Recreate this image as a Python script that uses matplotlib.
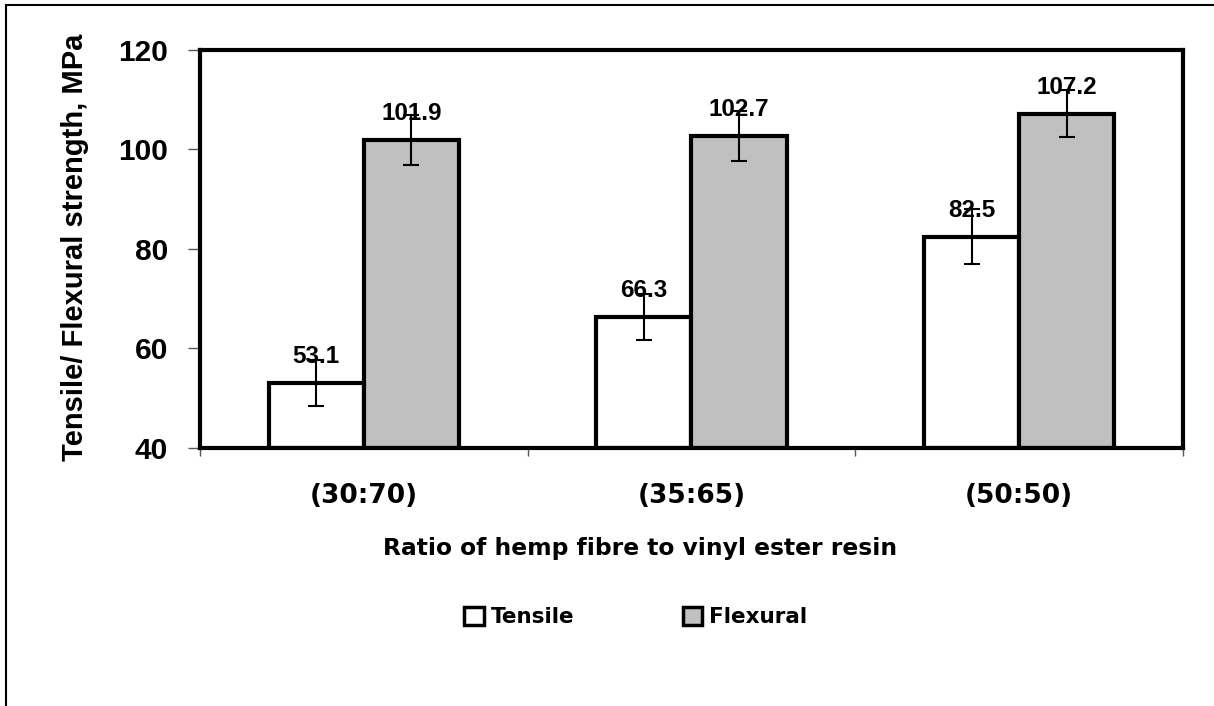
import matplotlib
matplotlib.use("Agg")
import matplotlib.pyplot as plt
from matplotlib.lines import Line2D
from matplotlib.patches import Rectangle
from matplotlib import font_manager as fm
import numpy as np

categories = ["(30:70)", "(35:65)", "(50:50)"]
tensile = [53.1, 66.3, 82.5]
flexural = [101.9, 102.7, 107.2]
tensile_err = [4.6, 4.6, 5.5]
flexural_err = [5.0, 5.0, 4.7]
yticks = [40, 60, 80, 100, 120]

# locate regular-width Liberation Sans Bold (avoid the Narrow variant)
arial_bold_file = None
for f in fm.fontManager.ttflist:
    fn = f.fname.lower()
    if f.name == 'Liberation Sans' and 'narrow' not in fn and 'bold' in fn and 'italic' not in fn:
        arial_bold_file = f.fname
        break
if arial_bold_file is None:
    arial_bold_file = fm.findfont(fm.FontProperties(family='DejaVu Sans', weight='bold'))

def AP(size):
    return fm.FontProperties(fname=arial_bold_file, size=size)

def WP(size):
    return fm.FontProperties(family='DejaVu Sans', weight='bold', size=size)

plt.rcParams['font.family'] = ['DejaVu Sans']
plt.rcParams['font.weight'] = 'bold'

fig = plt.figure(figsize=(12.14, 7.06), dpi=100)
ax = fig.add_axes([200/1214, 1-448/706, (1183-200)/1214, (448-50)/706])

x = np.arange(len(categories))
w = 0.29
ax.bar(x - w/2, [t - 40 for t in tensile], w, bottom=40, color='white', edgecolor='black', linewidth=3, zorder=2)
ax.bar(x + w/2, [f - 40 for f in flexural], w, bottom=40, color='#c0c0c0', edgecolor='black', linewidth=3, zorder=2)
ax.errorbar(x - w/2, tensile, yerr=tensile_err, fmt='none', ecolor='black', elinewidth=1.5, capsize=6, capthick=1.5, zorder=3)
ax.errorbar(x + w/2, flexural, yerr=flexural_err, fmt='none', ecolor='black', elinewidth=1.5, capsize=6, capthick=1.5, zorder=3)

for xi, v in list(zip(x - w/2, tensile)) + list(zip(x + w/2, flexural)):
    ax.annotate(f"{v:.1f}", (xi, v), xytext=(0, 19), textcoords='offset points',
                ha='center', va='center', fontproperties=AP(17.5), zorder=4)

ax.set_xlim(-0.5, 2.5)
ax.set_ylim(40, 120)
ax.set_yticks(yticks)
ax.set_yticklabels([str(t) for t in yticks], fontproperties=AP(21.5))
ax.set_xticks(x)
ax.set_xticklabels(categories, fontproperties=WP(19))
ax.set_xticks([-0.5, 0.5, 1.5, 2.5], minor=True)
ax.tick_params(axis='x', which='major', length=0, pad=25)
ax.tick_params(axis='x', which='minor', length=6, width=1, direction='out', color='#555555')
ax.tick_params(axis='y', length=9, width=1, direction='out', pad=14, color='#555555')
for s in ax.spines.values():
    s.set_linewidth(3)
    s.set_zorder(5)

ax.set_xlabel("Ratio of hemp fibre to vinyl ester resin", fontproperties=WP(16.8))
ax.xaxis.set_label_coords((640.5-200)/983, (448-548)/398)
ax.xaxis.label.set_va('center')
ax.set_ylabel("Tensile/ Flexural strength, MPa", fontproperties=AP(21))
ax.yaxis.set_label_coords((75-200)/983, (448-247.5)/398)
ax.yaxis.label.set_va('center')

handles = [Rectangle((0, 0), 1, 1, facecolor='white', edgecolor='black', linewidth=2.5),
           Rectangle((0, 0), 1, 1, facecolor='#c0c0c0', edgecolor='black', linewidth=2.5)]
fig.legend(handles, ["Tensile", "Flexural"], loc='center', bbox_to_anchor=(636/1214, 1-617/706),
           ncol=2, frameon=False, handlelength=0.9, handleheight=0.9,
           handletextpad=0.35, columnspacing=5.0, borderpad=0, borderaxespad=0,
           prop=WP(15.5))

fig.add_artist(Line2D([6/1214, 6/1214], [0, 1-5/706], transform=fig.transFigure, color='black', linewidth=1.5))
fig.add_artist(Line2D([6/1214, 1213/1214], [1-5/706, 1-5/706], transform=fig.transFigure, color='black', linewidth=1.5))

fig.savefig("out.png", dpi=100)
